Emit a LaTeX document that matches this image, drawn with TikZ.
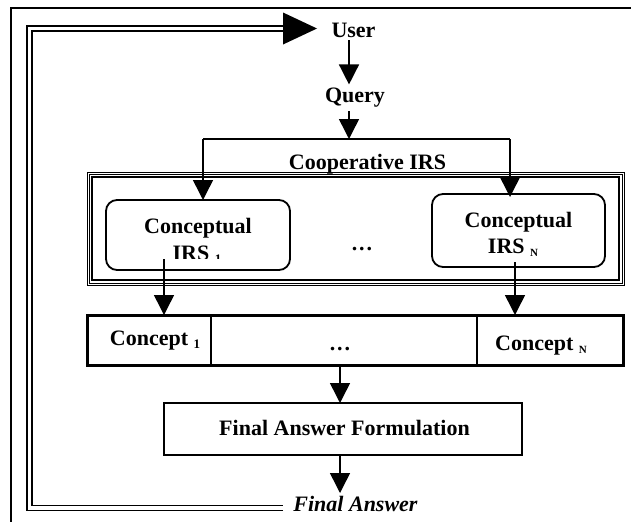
\documentclass[tikz,border=0pt]{standalone}
\usepackage{fontspec}
\setmainfont{Liberation Serif}
\usetikzlibrary{arrows.meta}
\newcommand\sbs[1]{\raisebox{-3pt}{\fontsize{13}{13}\selectfont #1}}
\newcommand\tdots{.\kern2pt.\kern2pt.}
\begin{document}
\begin{tikzpicture}[x=1pt,y=-1pt,
  every node/.style={inner sep=0pt,outer sep=0pt},
  txt/.style={font=\fontsize{22}{24}\selectfont\bfseries,anchor=base},
  itxt/.style={font=\fontsize{22}{24}\selectfont\bfseries\itshape,anchor=base},
  ln/.style={line width=1.5pt},
  arr/.style={ln,-{Triangle[length=20pt,width=20pt]}},
  dbl/.style={line width=1.5pt,double,double distance=3.5pt},
  rbox/.style={draw,line width=1.8pt,rounded corners=11pt},
  cell/.style={draw,line width=2pt,minimum height=50pt},
  plainbox/.style={draw,line width=2pt}]
\useasboundingbox (0,0) rectangle (631,522);
% outer frame (top and left sides visible)
\draw[ln] (631,8) -- (11,8) -- (11,522);

% texts
\node[txt] (user) at (353.5,37) {User};
\node[txt] (query) at (355,102) {Query};
\node[txt] (coop) at (367.5,169) {Cooperative IRS};

% cooperative frame
\node[draw,line width=1pt,minimum width=537pt,minimum height=113pt] (frameA) at (355.5,228.5) {};
\node[draw,line width=1pt,minimum width=533pt,minimum height=109pt] (frameB) at (355.5,228.5) {};
\node[draw,line width=1.5pt,minimum width=527pt,minimum height=103pt] (frameC) at (355.5,228.5) {};

% conceptual IRS boxes
\node[rbox,minimum width=184pt,minimum height=70pt] (irs1) at (198,235) {};
\node[rbox,minimum width=173pt,minimum height=73pt] (irsN) at (518.5,230.5) {};
\node[txt] (irs1a) at (198,233) {Conceptual};
\begin{scope}
  \clip (100,200) rectangle (300,258);
  \node[txt] (irs1b) at (197,260) {IRS \sbs{1}};
\end{scope}
\node[txt] (irsNa) at (518.5,227) {Conceptual};
\node[txt] (irsNb) at (513,253) {IRS \sbs{\fontsize{11}{11}\selectfont N}};
\node[txt] (dots1) at (362,250) {\tdots};

% concept row
\node[cell,minimum width=124pt] (c1) at (149,340) {};
\node[cell,minimum width=266pt] (cdots) at (344,340) {};
\node[cell,minimum width=146pt] (cN) at (550,340) {};
\node[draw,line width=3pt,minimum width=536pt,minimum height=50pt] (row) at (355,340) {};
\node[txt] (c1t) at (155,345) {Concept \sbs{1}};
\node[txt] (cdt) at (340,350) {\tdots};
\node[txt] (cNt) at (541,350) {Concept \sbs{\fontsize{11}{11}\selectfont N}};

% final answer formulation
\node[plainbox,minimum width=358pt,minimum height=52pt] (faf) at (343,429) {};
\node[txt] (faft) at (344.5,435) {Final Answer Formulation};
\node[itxt] (fa) at (355.5,511) {Final Answer};

% connectors
\coordinate (u0) at (349,40);
\coordinate (q0) at (349,111);
\coordinate (jc) at (349,139);
\coordinate (jl) at (203,139);
\coordinate (jr) at (510,139);
\draw[arr] (u0) -- (u0 |- query.north) [shorten >=3pt];
\draw[arr] (q0) -- (jc);
\draw[ln] (jl) -- (jr);
\draw[arr] (jl) -- (jl |- irs1.north);
\draw[arr] (jr) -- ([yshift=-3pt]jr |- irsN.north);
\coordinate (o1) at (164,259);
\coordinate (oN) at (515,262);
\draw[arr] (o1) -- (o1 |- c1.north);
\draw[arr] (oN) -- (oN |- cN.north);
\coordinate (r0) at (340,365);
\draw[arr] (r0) -- (r0 |- faf.north);
\coordinate (f0) at (340,455);
\draw[arr] (f0) -- (340,493);

% feedback double line
\coordinate (fbs) at (283,508);
\coordinate (fbl) at (29.5,508);
\coordinate (fbt) at (29.5,28.5);
\coordinate (fbe) at (283,28.5);
\draw[dbl] (fbs) -- (fbl) -- (fbt) -- (fbe);
\fill (fbe) ++(0,-16) -- ++(34,16) -- ++(-34,16) -- cycle;
\end{tikzpicture}
\end{document}
